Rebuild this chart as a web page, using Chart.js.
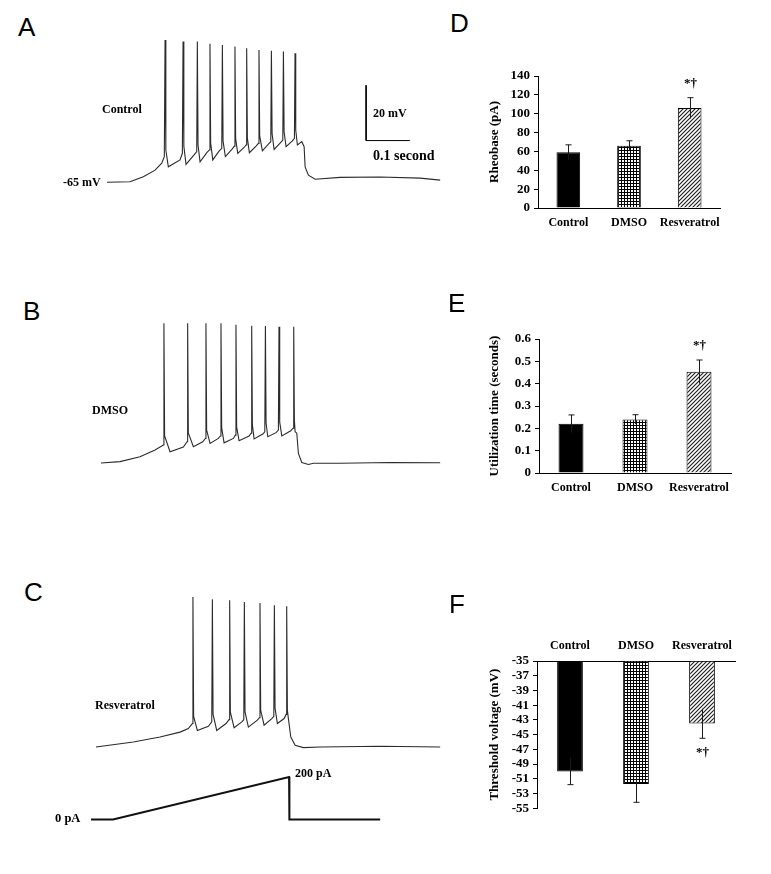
<!DOCTYPE html>
<html>
<head>
<meta charset="utf-8">
<script src="https://cdn.jsdelivr.net/npm/chart.js@4.4.0/dist/chart.umd.min.js"></script>
<style>
body { margin: 0; background: #fff; }
#fig { position: relative; width: 771px; height: 874px; overflow: hidden; font-family: 'Liberation Serif', 'Times New Roman', serif; }
#fig canvas { position: absolute; }
.lbl { position: absolute; font-weight: bold; font-size: 12px; line-height: 1; white-space: nowrap; transform: translateY(-50%); color: #000; }
.pan { position: absolute; font-family: 'Liberation Sans', Arial, sans-serif; font-size: 26px; line-height: 1; transform: translateY(-50%); color: #000; }
</style>
</head>
<body>
<div id="fig">
  <canvas id="trA" width="360" height="170" style="left:90px;top:30px"></canvas>
  <canvas id="trB" width="360" height="170" style="left:90px;top:311px"></canvas>
  <canvas id="trC" width="360" height="170" style="left:90px;top:595px"></canvas>
  <canvas id="ramp" width="360" height="70" style="left:90px;top:760px"></canvas>
  <canvas id="barD" width="260" height="180" style="left:480px;top:60px"></canvas>
  <canvas id="barE" width="270" height="190" style="left:480px;top:320px"></canvas>
  <canvas id="barF" width="270" height="200" style="left:480px;top:620px"></canvas>

  <div class="pan" style="left:18px;top:27px">A</div>
  <div class="pan" style="left:23px;top:311px">B</div>
  <div class="pan" style="left:24px;top:592px">C</div>
  <div class="pan" style="left:450px;top:23px">D</div>
  <div class="pan" style="left:448px;top:303px">E</div>
  <div class="pan" style="left:449px;top:604px">F</div>

  <div class="lbl" style="left:102px;top:109px">Control</div>
  <div class="lbl" style="left:63px;top:182px">-65 mV</div>
  <div class="lbl" style="left:373px;top:113px">20 mV</div>
  <div class="lbl" style="left:373px;top:156px;font-size:14px">0.1 second</div>
  <div class="lbl" style="left:92px;top:410px">DMSO</div>
  <div class="lbl" style="left:95px;top:705px">Resveratrol</div>
  <div class="lbl" style="left:55px;top:818px;font-size:12.5px">0 pA</div>
  <div class="lbl" style="left:295px;top:773px">200 pA</div>
</div>

<script>
// traces: time in ms, membrane potential in mV
let timeA = [38.9, 91.6, 122.1, 148.9, 164.2,
  170.1, 171.8, 173.6, 179.3, 206.1,
  211.4, 213.0, 214.8, 219.8, 238.2,
  244.3, 245.7, 247.3, 251.9, 267.9,
  273.2, 274.6, 276.2, 281.0, 295.4,
  301.6, 303.0, 304.6, 309.8, 325.2,
  330.4, 331.8, 333.4, 338.2, 352.7,
  357.2, 358.6, 360.2, 364.8, 380.1,
  385.4, 386.8, 388.4, 394.6, 408.8,
  413.8, 415.2, 416.8, 421.4, 436.2,
  441.3, 442.7, 444.3, 448.8, 462.6,
  467.9, 469.3, 470.9, 474.7,
  484.8, 490.1, 492.4, 499.9, 515.3, 572.5, 664.1, 755.7, 801.5];
let voltA = [-65.1, -64.9, -63.1, -60.7, -58.2,
  -55.8, -13.6, -53.4, -59.5, -57.0,
  -54.6, -14.2, -52.0, -58.6, -55.2,
  -54.0, -14.2, -51.6, -57.7, -54.3,
  -53.4, -15.0, -50.9, -57.0, -53.8,
  -52.8, -15.4, -50.2, -55.8, -53.1,
  -52.0, -16.0, -49.4, -54.6, -52.5,
  -51.6, -16.6, -49.1, -54.4, -52.0,
  -51.0, -17.2, -48.3, -53.7, -51.2,
  -50.4, -17.5, -47.6, -53.2, -50.7,
  -49.8, -17.8, -46.9, -52.2, -50.2,
  -49.2, -18.4, -46.2, -51.6,
  -50.4, -52.2, -59.5, -62.5, -64.0, -63.3, -63.2, -63.6, -64.3];

let timeB = [25.2, 68.7, 114.5, 148.9,
  167.9, 169.2, 170.8, 183.2, 213.7,
  222.1, 223.5, 225.1, 236.6, 258.1,
  264.0, 265.4, 267.0, 274.8, 293.8,
  298.4, 299.8, 301.4, 306.9, 328.2,
  332.7, 334.1, 335.7, 341.2, 364.1,
  368.7, 370.1, 371.7, 375.6, 395.5,
  400.1, 401.5, 403.0, 406.9, 425.9,
  431.2, 432.6, 434.2, 439.0, 459.6,
  464.9, 466.3, 467.8, 469.5, 473.3,
  477.0, 484.8, 499.9, 511.4, 572.5, 687.0, 801.5];
let voltB = [-65.0, -64.5, -62.7, -60.3,
  -58.5, -14.4, -55.2, -60.9, -59.2,
  -57.3, -14.4, -54.1, -59.1, -57.3,
  -56.1, -14.4, -53.1, -57.9, -56.1,
  -55.2, -14.4, -52.3, -57.7, -56.1,
  -54.9, -15.0, -52.0, -56.9, -55.2,
  -54.2, -15.3, -51.2, -56.3, -54.5,
  -53.7, -15.4, -50.5, -55.5, -54.0,
  -53.1, -15.7, -50.2, -55.2, -53.3,
  -52.4, -15.7, -49.4, -53.7, -54.2,
  -61.5, -64.8, -65.5, -65.1, -65.1, -64.8, -64.9];

let timeC = [13.7, 99.2, 160.3, 206.1, 225.1,
  234.3, 235.6, 237.2, 245.7, 270.9,
  278.7, 280.1, 281.7, 290.1, 311.4,
  318.3, 319.7, 321.3, 329.8, 347.4,
  352.0, 353.3, 354.9, 362.5, 383.1,
  387.7, 389.1, 390.7, 398.5, 416.1,
  420.7, 422.0, 423.6, 428.9, 444.3,
  448.8, 450.2, 451.8, 454.1,
  459.6, 469.5, 488.5, 526.7, 664.1, 801.5];
let voltC = [-65.0, -63.2, -61.4, -59.6, -58.3,
  -56.5, -10.7, -53.9, -59.0, -57.5,
  -55.9, -11.5, -53.2, -59.0, -56.5,
  -55.1, -11.9, -52.4, -58.0, -55.9,
  -55.1, -12.5, -52.4, -57.8, -55.3,
  -54.4, -12.9, -51.7, -57.1, -54.7,
  -53.9, -13.7, -51.0, -56.5, -54.7,
  -53.2, -14.1, -51.7, -54.7,
  -61.4, -64.4, -65.2, -65.0, -64.7, -65.0];

// 20 mV / 0.1 s scale bar
let scaleBarT = [632, 632, 732];
let scaleBarV = [-30, -50, -50];

// injected current ramp (pA)
let rampT = [2.3, 52.7, 455.7, 456.4, 664.1];
let rampI = [0, 0, 200, 0, 0];

// bar charts
let groups = ["Control", "DMSO", "Resveratrol"];
let rheobase = [59, 66, 106];
let rheobaseErr = [8, 5.3, 11];
let utilTime = [0.22, 0.24, 0.453];
let utilTimeErr = [0.04, 0.021, 0.053];
let threshold = [-50, -51.7, -43.5];
let thresholdErr = [1.8, 2.5, 2];
let marks = ["", "", "*†"];

Chart.defaults.font.family = "'Liberation Serif', 'Times New Roman', serif";
Chart.defaults.font.weight = "bold";
Chart.defaults.color = "#000";

function pts(t, v) {
    return t.map((x, i) => ({x: x, y: v[i]}));
}

function trace(id, sets, yMin, yMax) {
    new Chart(id, {
        type: "scatter",
        data: {
            datasets: sets.map(s => ({
                data: s.data,
                showLine: true,
                borderColor: s.color || "#2b2b2b",
                borderWidth: s.width || 1.1,
                pointRadius: 0,
                tension: 0
            }))
        },
        options: {
            responsive: false,
            animation: false,
            events: [],
            layout: {padding: 0},
            plugins: {legend: {display: false}, tooltip: {enabled: false}},
            scales: {
                x: {type: "linear", display: false, min: 0, max: 824},
                y: {display: false, min: yMin, max: yMax}
            }
        }
    });
}

trace("trA", [{data: pts(timeA, voltA)}, {data: pts(scaleBarT, scaleBarV), color: "#000", width: 1}], -71.5, -10);
trace("trB", [{data: pts(timeB, voltB)}], -71.5, -10);
trace("trC", [{data: pts(timeC, voltC)}], -71.5, -10);
trace("ramp", [{data: pts(rampT, rampI), color: "#111", width: 2}], -50, 280);

function checker() {
    let c = document.createElement("canvas");
    c.width = 3; c.height = 3;
    let g = c.getContext("2d");
    g.fillStyle = "#fff"; g.fillRect(0, 0, 3, 3);
    g.fillStyle = "#000"; g.fillRect(0, 0, 3, 1); g.fillRect(0, 0, 1, 3);
    return g.createPattern(c, "repeat");
}

function hatch() {
    let c = document.createElement("canvas");
    c.width = 4; c.height = 4;
    let g = c.getContext("2d");
    g.fillStyle = "#fff"; g.fillRect(0, 0, 4, 4);
    g.strokeStyle = "#222"; g.lineWidth = 1.2;
    g.beginPath();
    g.moveTo(0, 4); g.lineTo(4, 0);
    g.moveTo(-1, 1); g.lineTo(1, -1);
    g.moveTo(3, 5); g.lineTo(5, 3);
    g.stroke();
    return g.createPattern(c, "repeat");
}

//error bars + significance marks
const errBars = {
    id: "errBars",
    afterDatasetsDraw(chart) {
        let ds = chart.data.datasets[0];
        let meta = chart.getDatasetMeta(0);
        let ys = chart.scales.y;
        let ctx = chart.ctx;
        let base = ds.base || 0;
        ctx.save();
        ctx.strokeStyle = "#1a1a1a";
        ctx.lineWidth = 1;
        ctx.fillStyle = "#000";
        ctx.font = "bold 13px 'Liberation Serif'";
        ctx.textAlign = "center";
        ctx.textBaseline = "middle";
        meta.data.forEach((bar, i) => {
            let v = ds.data[i], e = ds.errs[i];
            let dir = v >= base ? 1 : -1;
            let x = Math.round(bar.x) + 0.5;
            let y1 = ys.getPixelForValue(v - dir * e);
            let y2 = ys.getPixelForValue(v + dir * e);
            ctx.beginPath();
            ctx.moveTo(x, y1); ctx.lineTo(x, y2);
            ctx.moveTo(x - 3, y2); ctx.lineTo(x + 3, y2);
            ctx.stroke();
            if (marks[i]) ctx.fillText(marks[i], x, y2 - dir * 14);
        });
        ctx.restore();
    }
};

function barChart(id, cfg) {
    let ds = {
        data: cfg.values,
        errs: cfg.errs,
        backgroundColor: ["#000", checker(), hatch()],
        borderColor: "#000",
        borderWidth: 1,
        barPercentage: 0.39,
        categoryPercentage: 1
    };
    if (cfg.base !== undefined) ds.base = cfg.base;
    new Chart(id, {
        type: "bar",
        data: {labels: groups, datasets: [ds]},
        plugins: [errBars],
        options: {
            responsive: false,
            animation: false,
            events: [],
            layout: {padding: cfg.padding},
            plugins: {legend: {display: false}, tooltip: {enabled: false}},
            scales: {
                x: {
                    position: cfg.xPos,
                    offset: true,
                    grid: {display: false, drawTicks: false},
                    border: {display: true, color: "#000", width: 1},
                    ticks: {font: {size: 12, weight: "bold"}, padding: 8, autoSkip: false, maxRotation: 0, minRotation: 0},
                    afterFit: s => { s.height = cfg.xHeight; }
                },
                y: {
                    min: cfg.min,
                    max: cfg.max,
                    grid: {drawOnChartArea: false, drawTicks: true, tickLength: 4, color: "#000"},
                    border: {display: true, color: "#000", width: 1},
                    ticks: {stepSize: cfg.step, font: {size: 13, weight: "bold"}, padding: 4, autoSkip: false},
                    title: {display: true, text: cfg.title, font: {size: 13, weight: "bold"}, padding: {top: 7, bottom: 0}},
                    afterFit: s => { s.width = cfg.yWidth; }
                }
            }
        }
    });
}

barChart("barD", {
    values: rheobase, errs: rheobaseErr, min: 0, max: 140, step: 20,
    title: "Rheobase (pA)", xPos: "bottom",
    padding: {top: 16, right: 20, bottom: 0, left: 0}, xHeight: 32, yWidth: 58
});

barChart("barE", {
    values: utilTime, errs: utilTimeErr, min: 0, max: 0.6, step: 0.1,
    title: "Utilization time (seconds)", xPos: "bottom",
    padding: {top: 19, right: 19, bottom: 0, left: 0}, xHeight: 37, yWidth: 59
});

barChart("barF", {
    values: threshold, errs: thresholdErr, base: -35, min: -55, max: -35, step: 2,
    title: "Threshold voltage (mV)", xPos: "top",
    padding: {top: 0, right: 15, bottom: 9, left: 0}, xHeight: 41, yWidth: 57
});
</script>
</body>
</html>
